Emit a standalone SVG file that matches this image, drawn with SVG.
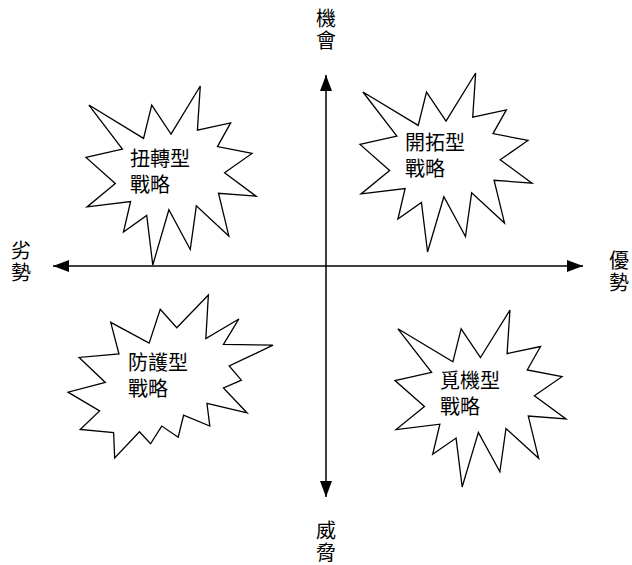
<svg xmlns="http://www.w3.org/2000/svg" xmlns:xlink="http://www.w3.org/1999/xlink" width="632" height="565" viewBox="0 0 632 565">
<style>
.seal{fill:#ffffff;stroke:#000000;stroke-width:1.3;stroke-linejoin:miter}
.axis{stroke:#000000;stroke-width:1.5;fill:none}
.lbl{font-family:"Noto Sans CJK TC","Noto Sans CJK SC",sans-serif;font-size:20px;fill:#000000}
.ax{font-family:"Noto Sans CJK TC","Noto Sans CJK SC",sans-serif;font-size:20px;fill:#000000;writing-mode:tb;letter-spacing:2px}
</style>
<defs>
<marker id="ah" markerUnits="userSpaceOnUse" markerWidth="16" markerHeight="12" refX="16" refY="6" orient="auto-start-reverse">
<path d="M0,0 L16,6 L0,12 Z" fill="#000000"/>
</marker>
<polygon id="seal1" class="seal" vector-effect="non-scaling-stroke" points="10800,5800 14522,0 14155,5325 18380,4457 16702,7315 21097,8137 17607,10475 21600,13290 16837,12942 18145,18095 14020,14457 13247,19737 10532,14935 8485,21600 7715,15627 4762,17617 5667,13937 135,14587 3722,11775 0,8615 4627,7617 370,2295 7312,6320 8352,2295"/>
<polygon id="seal2" class="seal" vector-effect="non-scaling-stroke" points="11462,4342 14790,0 14525,5777 18007,3172 16380,6532 21600,6645 16985,9402 18270,11290 16380,12310 18877,15632 14640,14350 14942,17370 12180,15935 11612,18842 9872,17370 8700,19712 7527,18125 4917,21600 4805,18240 1285,17825 3330,15370 0,12877 3935,11592 1172,8270 5372,7817 4502,3625 8550,6382 9722,1887"/>
</defs>

<g id="connectors">
<line class="axis" x1="326" y1="497" x2="326" y2="75" marker-start="url(#ah)" marker-end="url(#ah)"/>
<line class="axis" x1="53" y1="266" x2="583" y2="266" marker-start="url(#ah)" marker-end="url(#ah)"/>
</g>

<g id="node-niuzhuan">
<use xlink:href="#seal1" href="#seal1" transform="translate(86,86) scale(0.0078704,0.0082870)"/>
<text class="lbl"><tspan x="130" y="166">扭轉型</tspan><tspan x="130" y="192">戰略</tspan></text>
</g>

<g id="node-kaituo">
<use xlink:href="#seal1" href="#seal1" transform="translate(360,73) scale(0.0079630,0.0082870)"/>
<text class="lbl"><tspan x="405" y="150">開拓型</tspan><tspan x="405" y="176">戰略</tspan></text>
</g>

<g id="node-fanghu">
<use xlink:href="#seal2" href="#seal2" transform="translate(68,295) scale(0.0094907,0.0075463)"/>
<text class="lbl"><tspan x="128" y="370">防護型</tspan><tspan x="128" y="396">戰略</tspan></text>
</g>

<g id="node-miji">
<use xlink:href="#seal1" href="#seal1" transform="translate(395,310) scale(0.0079167,0.0081944)"/>
<text class="lbl"><tspan x="440" y="388">覓機型</tspan><tspan x="440" y="414">戰略</tspan></text>
</g>

<g id="label-top">
<text class="ax" x="326" y="8">機會</text>
</g>
<g id="label-left">
<text class="ax" x="21" y="240">劣勢</text>
</g>
<g id="label-right">
<text class="ax" x="619" y="250">優勢</text>
</g>
<g id="label-bottom">
<text class="ax" x="326" y="520">威脅</text>
</g>
</svg>
